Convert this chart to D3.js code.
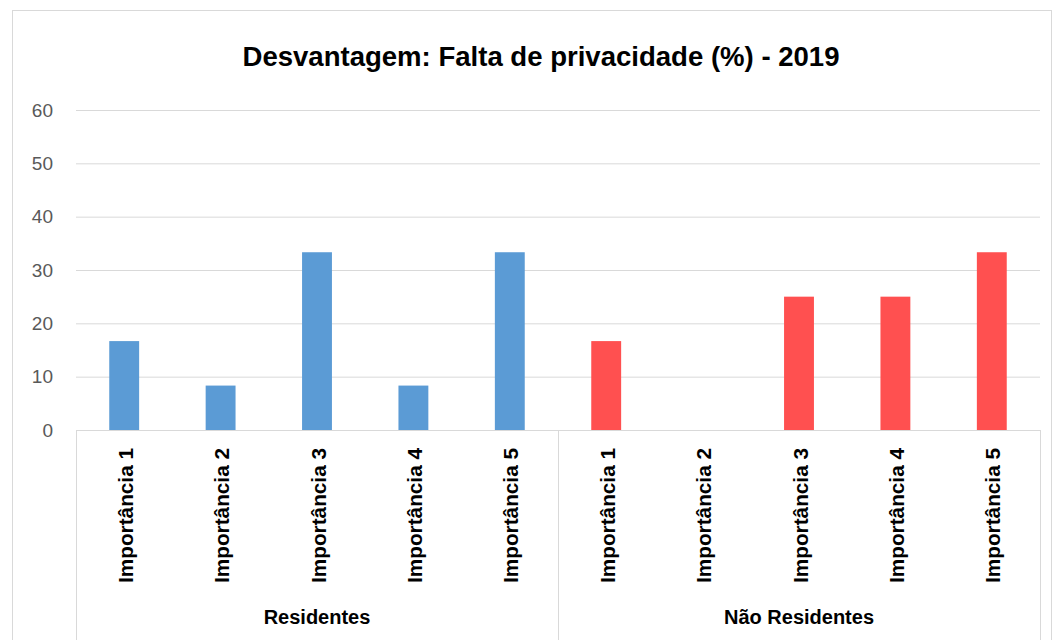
<!DOCTYPE html>
<html>
<head>
<meta charset="utf-8">
<script src="https://cdn.jsdelivr.net/npm/d3@7"></script>
<style>
  body { margin: 0; background: #fff; }
  svg { display: block; font-family: "Liberation Sans", Arial, sans-serif; }
</style>
</head>
<body>
<svg id="chart" width="1059" height="640"></svg>
<script>
const title = 'Desvantagem: Falta de privacidade (%) - 2019';
const groups = ['Residentes', 'Não Residentes'];
const levels = ['Importância 1', 'Importância 2', 'Importância 3', 'Importância 4', 'Importância 5'];
const residentes = [16.67, 8.33, 33.33, 8.33, 33.33];
const naoResidentes = [16.67, 0, 25, 25, 33.33];
const yTicks = [0, 10, 20, 30, 40, 50, 60];
const colors = ['#5B9BD5', '#FF5050'];

const svg = d3.select('#chart');
const plotLeft = 76, plotRight = 1040, plotTop = 110, plotBottom = 430;

// outer chart border
svg.append('rect').attr('x', 12.5).attr('y', 10.5).attr('width', 1039).attr('height', 660)
  .attr('fill', 'none').attr('stroke', '#d9d9d9');

svg.append('text').attr('x', 541).attr('y', 66).attr('text-anchor', 'middle')
  .attr('font-family', '"Liberation Sans Narrow", "Liberation Sans", sans-serif')
  .attr('font-size', 27).attr('font-weight', 700).attr('fill', '#000')
  .attr('textLength', 597).attr('lengthAdjust', 'spacingAndGlyphs').text(title);

const y = d3.scaleLinear().domain([0, 60]).range([plotBottom, plotTop]);

const rows = [];
groups.forEach((g, gi) => {
  const vals = gi === 0 ? residentes : naoResidentes;
  levels.forEach((l, li) => rows.push({ key: g + '|' + l, group: g, gi, level: l, value: vals[li] }));
});

const x = d3.scaleBand().domain(rows.map(d => d.key)).range([plotLeft, plotRight]).paddingInner(0).paddingOuter(0);
const bw = x.bandwidth() * 0.31;

// gridlines
svg.append('g').selectAll('line').data(yTicks.filter(t => t > 0)).join('line')
  .attr('x1', plotLeft).attr('x2', plotRight)
  .attr('y1', d => y(d) + 0.5).attr('y2', d => y(d) + 0.5)
  .attr('stroke', '#d9d9d9').attr('stroke-width', 1);

// y axis labels
const yAxis = svg.append('g').attr('transform', `translate(${plotLeft},0)`)
  .call(d3.axisLeft(y).tickValues(yTicks).tickSize(0).tickPadding(23));
yAxis.select('.domain').remove();
yAxis.selectAll('text').attr('font-size', 19).attr('fill', '#595959')
  .attr('font-family', '"Liberation Sans", sans-serif');

// bars
svg.append('g').selectAll('rect').data(rows).join('rect')
  .attr('x', d => x(d.key) + (x.bandwidth() - bw) / 2)
  .attr('width', bw)
  .attr('y', d => y(d.value))
  .attr('height', d => plotBottom - y(d.value))
  .attr('fill', d => colors[d.gi]);

// category axis box
const ax = svg.append('g').attr('stroke', '#d9d9d9').attr('stroke-width', 1);
ax.append('line').attr('x1', plotLeft).attr('x2', plotRight).attr('y1', plotBottom + 0.5).attr('y2', plotBottom + 0.5);
const seps = [plotLeft, x(rows[5].key), plotRight];
ax.selectAll('line.sep').data(seps).join('line').attr('class', 'sep')
  .attr('x1', d => Math.round(d) + 0.5).attr('x2', d => Math.round(d) + 0.5)
  .attr('y1', plotBottom).attr('y2', 640);

// inner labels
svg.append('g').selectAll('text').data(rows).join('text')
  .attr('transform', d => `translate(${x(d.key) + x.bandwidth() / 2 + 8.5},${plotBottom + 18}) rotate(-90)`)
  .attr('text-anchor', 'end')
  .attr('font-size', 20).attr('font-weight', 700).attr('fill', '#000')
  .attr('textLength', 135).attr('lengthAdjust', 'spacingAndGlyphs')
  .text(d => d.level);

// group labels
svg.append('g').selectAll('text').data(groups).join('text')
  .attr('x', (g, i) => (seps[i] + seps[i + 1]) / 2)
  .attr('y', 624)
  .attr('text-anchor', 'middle')
  .attr('font-size', 20).attr('font-weight', 700).attr('fill', '#000')
  .text(d => d);
</script>
</body>
</html>
